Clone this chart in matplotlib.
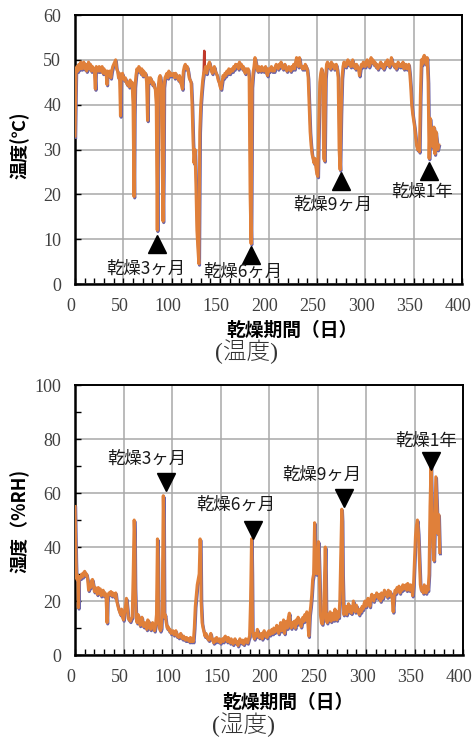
import numpy as np
import matplotlib
matplotlib.use("Agg")
import matplotlib.pyplot as plt
import matplotlib.patheffects as pe
import matplotlib.transforms as mtrans
from matplotlib.ticker import MultipleLocator

plt.rcParams['font.family'] = ['Noto Sans CJK JP', 'DejaVu Sans']

# temperature (deg C) vs drying days
temp_day = [0, 0.5, 1, 2, 3, 4, 5, 6, 7, 8, 9, 10, 11, 12, 13, 14, 15, 16, 17, 18, 19, 20,
            21, 21.5, 22, 24, 25, 26, 28, 29, 30, 31, 32, 33, 33.5, 35, 36, 37, 38, 39, 40,
            41, 42, 43, 44, 45, 46, 47, 47.5, 48, 49, 50, 51, 52, 53, 54, 55, 56, 57, 58, 59,
            60, 61, 61.5, 62, 63, 64, 65, 66, 67, 68, 69, 70, 71, 72, 73, 74, 75, 75.5, 76,
            77, 78, 79, 80, 81, 82, 83, 84, 85, 85.5, 86, 87, 88, 89, 90, 91, 91.5, 92, 93,
            94, 95, 96, 97, 98, 99, 100, 102, 103, 104, 105, 106, 107, 108, 109, 110, 111,
            111.5, 112, 113, 114, 115, 116, 117, 118, 119, 120, 121, 122, 123, 124, 125, 126,
            127, 128, 128.5, 129, 130, 131, 132, 133, 134, 135, 136, 137, 138, 139, 140, 141,
            142, 143, 144, 145, 146, 147, 148, 149, 150, 151, 152, 153, 154, 155, 156, 157,
            158, 159, 160, 161, 162, 163, 164, 165, 166, 167, 168, 169, 170, 171, 172, 173,
            174, 175, 176, 177, 178, 179, 180, 181, 182, 182.5, 183, 184, 185, 186, 187, 188,
            189, 190, 191, 192, 193, 194, 195, 196, 197, 198, 199, 200, 201, 202, 203, 204,
            205, 206, 207, 208, 209, 210, 211, 212, 213, 214, 215, 216, 217, 218, 219, 220,
            221, 222, 223, 224, 225, 226, 227, 228, 229, 230, 231, 232, 233, 234, 235, 236,
            237, 238, 239, 240, 241, 242, 243, 244, 245, 246, 247, 248, 249, 250, 251, 252,
            253, 254, 255, 256, 257, 258, 259, 260, 261, 262, 263, 264, 265, 266, 267, 268,
            269, 270, 271, 272, 273, 274, 275, 276, 277, 278, 279, 280, 281, 282, 283, 284,
            285, 286, 287, 288, 289, 290, 291, 292, 293, 294, 295, 296, 297, 298, 299, 300,
            301, 302, 303, 304, 305, 306, 307, 308, 309, 310, 311, 312, 313, 314, 315, 316,
            317, 318, 319, 320, 321, 322, 323, 324, 325, 326, 327, 328, 329, 330, 331, 332,
            333, 334, 335, 336, 337, 338, 339, 340, 341, 342, 343, 344, 345, 346, 347, 348,
            349, 350, 351, 352, 353, 354, 355, 356, 357, 358, 359, 360, 361, 362, 363, 364,
            365, 366, 367, 368, 369, 370, 371, 372, 373, 374, 375, 376]
temp_val = [33, 40, 47, 48.5, 47.5, 49, 48, 49.5, 48, 48.5, 49.5, 48, 49, 47.5, 48.5, 49.5, 48,
            49, 47.5, 48.5, 48, 47.5,
            43.5, 48, 48.5, 47.5, 48.5, 47.5, 48.5, 47, 48, 47, 47.5, 44.5, 47.5, 46.5, 47.5,
            46, 47.5, 48.5, 49,
            49.5, 50, 48, 47.5, 46, 47, 37.5, 46, 46.5, 47, 46, 45.5, 46, 45, 44.5, 45, 44,
            45.5, 44.5, 45,
            40, 19.5, 38, 44, 46.5, 48, 47.5, 48.5, 48, 47, 48, 46.5, 47.5, 46.5, 47, 45, 36.5,
            45, 46,
            45, 46, 45.5, 44.5, 45, 44, 43.5, 40, 12, 30, 44, 46, 46.5, 45, 30, 14, 25, 44, 46,
            46.5, 47, 46, 47.5, 46.5, 47, 46.5, 47, 46, 47, 46.5, 46, 45.5, 46.5, 45, 44.5, 43.5,
            46, 47.5, 48.5, 49, 48, 48.5, 47.5, 46, 45.5, 45, 40, 32, 27, 30, 22, 12,
            8, 4.5, 20, 34, 40, 43, 45.5, 47, 47.5, 48.5, 47, 48, 49, 49.5, 48.5, 47.5,
            47, 48, 48.5, 47.5, 47, 46.5, 45.5, 45, 44, 43.5, 45, 46.5, 46, 47, 46.5, 47.5,
            47, 48, 47, 47.5, 48, 47.5, 48.5, 48, 49, 48.5, 49, 48, 49.5, 48.5, 49, 48,
            48.5, 47.5, 47, 48, 47.5, 48, 46, 20, 9, 25, 44, 47, 48.5, 50.5, 49.5, 48,
            47.5, 48.5, 48, 47.5, 48.5, 48, 47.5, 48, 48.5, 47, 46.5, 48, 47.5, 48, 48.5, 47.5,
            48, 47.5, 48.5, 49, 48.5, 48, 49, 48.5, 49.5, 48.5, 48, 48.5, 49, 48, 47.5, 48,
            48.5, 48, 47.5, 48.5, 48, 49, 48, 49.5, 50.5, 49, 48.5, 50.5, 49, 48.5, 48, 48.5,
            48, 49, 48.5, 48, 46, 40, 34, 31, 29, 28, 27, 28, 26, 24.5, 24, 36,
            45, 47, 48, 47, 28, 27.5, 46, 49, 49.5, 48.5, 49, 48, 49.5, 48.5, 49, 48,
            48.5, 49, 48, 46, 30, 25.5, 38, 46, 48.5, 49.5, 49, 48.5, 49.5, 50, 49, 49.5,
            48.5, 49, 50, 48.5, 49, 48, 49, 48.5, 48, 46.5, 48, 49, 48.5, 49.5, 49, 48.5,
            49.5, 50, 49, 48.5, 49, 50.5, 49.5, 50, 49, 49.5, 48.5, 49, 48, 48.5, 49, 49.5,
            48.5, 49, 48, 48.5, 49.5, 49, 50, 49, 48.5, 49, 50.5, 49.5, 49, 48.5, 49, 48,
            48.5, 49.5, 49, 48.5, 49, 48.5, 49.5, 48, 48.5, 49, 48, 48.5, 49, 47, 44, 40,
            38, 36.5, 35, 33, 31, 30, 30.5, 29.5, 42, 50, 49, 50.5, 51, 50, 49, 50.5,
            45, 28, 37, 34, 31, 30.5, 35, 29, 34, 32, 30, 31]

# a short separate (red) sensor trace with a spike
red_day = [133, 133.6, 134.2]
red_val = [47, 52, 47.5]

# humidity (%RH) vs drying days
hum_day = [0, 0.5, 1, 1.5, 2, 3, 3.5, 4, 5, 6, 7, 8, 9, 10, 11, 12, 13, 14, 15, 16, 17, 18, 19,
           20, 21, 22, 23, 24, 25, 26, 27, 28, 29, 30, 31, 32, 33, 33.5, 34, 35, 36, 37, 38,
           39, 40, 41, 42, 43, 44, 45, 46, 47, 48, 49, 50, 51, 52, 53, 54, 55, 56, 57, 58, 59,
           60, 61, 61.5, 62, 63, 64, 65, 66, 67, 68, 69, 70, 71, 72, 73, 74, 75, 76, 77, 78,
           79, 80, 81, 82, 83, 84, 85, 85.5, 86, 87, 88, 89, 90, 91, 91.5, 92, 93, 94, 95, 96,
           97, 98, 99, 100, 101, 102, 103, 104, 105, 106, 107, 108, 109, 110, 111, 112, 113,
           114, 115, 116, 117, 118, 119, 120, 121, 122, 123, 124, 125, 126, 127, 128, 129,
           129.5, 130, 131, 132, 133, 134, 135, 136, 137, 138, 139, 140, 141, 142, 143, 144,
           145, 146, 147, 148, 149, 150, 151, 152, 153, 154, 155, 156, 157, 158, 159, 160,
           161, 162, 163, 164, 165, 166, 167, 168, 169, 170, 171, 172, 173, 174, 175, 176,
           177, 178, 179, 180, 181, 182, 182.5, 183, 184, 185, 186, 187, 188, 189, 190, 191,
           192, 193, 194, 195, 196, 197, 198, 199, 200, 201, 202, 203, 204, 205, 206, 207,
           208, 209, 210, 211, 212, 213, 214, 215, 216, 217, 218, 219, 220, 221, 222, 223,
           224, 225, 226, 227, 228, 229, 230, 231, 232, 233, 234, 235, 236, 237, 238, 239,
           240, 241, 242, 243, 244, 245, 246, 247, 247.5, 248, 249, 250, 251, 252, 253, 254,
           255, 256, 257, 258, 258.5, 259, 260, 261, 262, 263, 264, 265, 266, 267, 268, 269,
           270, 271, 272, 273, 274, 275, 275.5, 276, 277, 278, 279, 280, 281, 282, 283, 284,
           285, 286, 287, 288, 289, 290, 291, 292, 293, 294, 295, 296, 297, 298, 299, 300,
           301, 302, 303, 304, 305, 306, 307, 308, 309, 310, 311, 312, 313, 314, 315, 316,
           317, 318, 319, 320, 321, 322, 323, 324, 325, 326, 327, 328, 329, 330, 331, 332,
           333, 334, 335, 336, 337, 338, 339, 340, 341, 342, 343, 344, 345, 346, 347, 348,
           349, 350, 351, 352, 353, 354, 355, 356, 357, 358, 359, 360, 361, 362, 363, 364,
           365, 366, 367, 368, 369, 370, 371, 372, 373, 374, 375, 376]
hum_val = [55, 45, 35, 29, 28, 29.5, 17.5, 28, 29, 28.5, 30, 29, 30.5, 31, 29.5, 30, 28, 24,
           26, 25, 27.5, 28, 26,
           23.5, 25, 24, 22.5, 25, 23, 24.5, 22, 23.5, 24, 22, 23, 21.5, 12, 20, 22, 23, 22.5,
           23.5, 22,
           23, 22.5, 21.5, 23, 20, 18.5, 17, 16, 15, 17, 14, 13, 15.5, 18, 21, 17.5, 13.5, 13,
           12.5, 13.5, 14,
           30, 50, 45, 25, 14, 12, 15, 13, 11, 12.5, 14, 11, 10.5, 12, 11, 9.5, 13, 12.5, 10,
           9.5,
           11, 12, 10, 9, 11, 15, 43, 35, 12, 10, 9, 10, 20, 59, 50, 14, 15, 12, 10, 10.5,
           9, 9.5, 8, 8.5, 9, 7.5, 8, 9, 7, 7.5, 6.5, 7, 8, 6.5, 6, 7, 6,
           5.5, 6.5, 5.5, 6, 5, 6.5, 5, 6, 5, 10, 18, 22, 26, 28, 30, 43,
           38, 20, 12, 10, 8.5, 7, 8, 6.5, 6, 5.5, 7, 8, 6, 5.5, 4.5, 6,
           5, 6.5, 5.5, 5, 6, 4.5, 5.5, 6, 5, 6.5, 7, 6, 5, 6.5, 5.5, 4.5,
           6, 5, 4, 5.5, 6, 4.5, 5, 3.5, 4.5, 6, 5, 4.5, 5.5, 4, 5, 6,
           5, 4.5, 6, 7, 20, 43, 30, 9, 7, 6, 8, 7, 9.5, 7.5, 6.5, 7,
           8, 6, 7.5, 9, 7, 8, 6.5, 8.5, 9, 7.5, 8, 9.5, 8, 10, 8.5, 9,
           11, 9.5, 8, 10, 12, 9, 10.5, 13, 8, 11, 12.5, 10, 14, 15.5, 11, 10,
           12, 11, 12.5, 10, 13, 11.5, 14, 12, 13, 10.5, 12, 14, 12.5, 15, 13, 16,
           12, 7, 15, 18, 22, 28, 30, 49, 40, 31, 30, 35, 42, 30, 15, 12,
           11.5, 14, 25, 40, 30, 13, 12, 15, 13, 16, 12.5, 14, 15.5, 13, 17, 14,
           13, 16, 14, 20, 38, 54, 50, 30, 15, 16, 18, 15, 17, 19, 16, 18,
           15.5, 17, 20, 17, 16, 18.5, 17, 16, 15, 17, 16, 18, 17, 19, 20, 18,
           19.5, 21, 20, 18, 21, 22.5, 21, 20, 22, 21.5, 23, 22, 21, 22.5, 20, 23,
           21, 22, 24, 22.5, 23, 21.5, 24, 22, 23.5, 22, 21, 16, 22, 24, 23, 25,
           24, 25.5, 23, 25, 24, 26, 24.5, 25, 26, 24, 26.5, 25, 24, 26, 25.5, 22,
           26, 35, 44, 48, 50, 45, 35, 26, 24, 25, 23, 26, 24, 23, 25.5, 24,
           30, 55, 70, 52, 40, 35, 50, 66, 55, 45, 52, 38]

# milestone markers
milestones = ['乾燥3ヶ月', '乾燥6ヶ月', '乾燥9ヶ月', '乾燥1年']
temp_mark_day = [85, 182, 275, 366]
temp_mark_val = [9, 6.5, 23, 25.3]
temp_text_day = [73, 173, 266, 359]
temp_text_val = [3.5, 2.8, 17.6, 20.6]
hum_mark_day = [94, 183, 277, 367]
hum_mark_val = [64, 46.3, 58, 72]
hum_text_day = [74, 166, 254, 362]
hum_text_val = [72.6, 55.5, 66.7, 79.4]

ORANGE = '#E0803A'

fig = plt.figure(figsize=(4.72, 7.40), dpi=100)
ax1 = fig.add_axes([75 / 472, 1 - 284 / 740, 387 / 472, 269 / 740])
ax2 = fig.add_axes([75 / 472, 1 - 655 / 740, 388 / 472, 270 / 740])

shadow = [pe.SimpleLineShadow(offset=(0.5, -1.0), shadow_color='#6c64a8', alpha=1.0),
          pe.Normal()]


def style_axes(ax, ymax, ymajor, yminor):
    ax.set_xlim(0, 400)
    ax.set_ylim(0, ymax)
    ax.xaxis.set_major_locator(MultipleLocator(50))
    ax.xaxis.set_minor_locator(MultipleLocator(10))
    ax.yaxis.set_major_locator(MultipleLocator(ymajor))
    ax.yaxis.set_minor_locator(MultipleLocator(yminor))
    ax.grid(True, which='major', color='#a8a8a8', lw=1.1)
    ax.set_axisbelow(True)
    ax.tick_params(which='both', direction='in', color='k', width=1.0,
                   top=False, right=False, labelcolor='#404040',
                   labelfontfamily='Liberation Serif', labelsize=13)
    ax.tick_params(which='major', length=4, pad=10)
    ax.tick_params(which='minor', length=4)
    # Excel-style: x labels sit slightly left of their ticks
    shift = mtrans.ScaledTranslation(-4 / 100, 0, fig.dpi_scale_trans)
    for lab in ax.get_xticklabels():
        lab.set_transform(lab.get_transform() + shift)
    for side in ['left', 'bottom']:
        ax.spines[side].set_linewidth(1.8)
    for side in ['top', 'right']:
        ax.spines[side].set_linewidth(1.4)


# temperature panel
ax1.plot(temp_day, temp_val, color=ORANGE, lw=2.2, path_effects=shadow, zorder=3)
ax1.plot(red_day, red_val, color='#c0392b', lw=1.8, zorder=2)
ax1.plot(temp_mark_day, temp_mark_val, ls='none', marker='^', ms=13, color='k', zorder=5)
for lab, x, y in zip(milestones, temp_text_day, temp_text_val):
    ax1.text(x, y, lab, ha='center', va='center', fontsize=12.5, color='#1a1a1a', zorder=6)
style_axes(ax1, 60, 10, 10)

# humidity panel
ax2.plot(hum_day, hum_val, color=ORANGE, lw=2.2, path_effects=shadow, zorder=3)
ax2.plot(hum_mark_day, hum_mark_val, ls='none', marker='v', ms=13, color='k', zorder=5)
for lab, x, y in zip(milestones, hum_text_day, hum_text_val):
    ax2.text(x, y, lab, ha='center', va='center', fontsize=12.5, color='#1a1a1a', zorder=6)
style_axes(ax2, 100, 20, 10)

# axis titles and captions
fig.text(20 / 472, 1 - 145 / 740, '温度(℃)', rotation=90, ha='center', va='center',
         fontsize=13, fontweight='bold')
fig.text(20 / 472, 1 - 521 / 740, '湿度（%RH)', rotation=90, ha='center', va='center',
         fontsize=13, fontweight='bold')
fig.text(292 / 472, 1 - 330 / 740, '乾燥期間（日）', ha='center', va='center',
         fontsize=13.5, fontweight='bold')
fig.text(288 / 472, 1 - 702 / 740, '乾燥期間（日）', ha='center', va='center',
         fontsize=13.5, fontweight='bold')
fig.text(246 / 472, 1 - 352 / 740, '(温度)', ha='center', va='center', fontsize=17,
         family=['Liberation Serif', 'Noto Sans CJK JP'], fontweight='light', color='#333333')
fig.text(244 / 472, 1 - 725 / 740, '(湿度)', ha='center', va='center', fontsize=17,
         family=['Liberation Serif', 'Noto Sans CJK JP'], fontweight='light', color='#333333')

fig.savefig('out.png', dpi=100)
